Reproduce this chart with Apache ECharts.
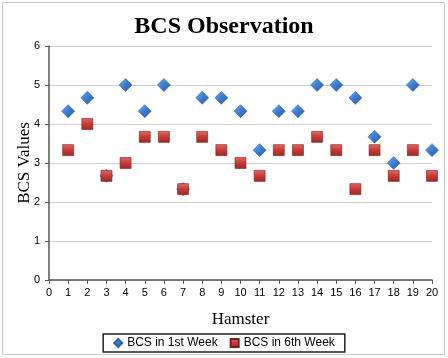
<!DOCTYPE html>
<html><head><meta charset="utf-8">
<script src="https://cdn.jsdelivr.net/npm/echarts@6/dist/echarts.min.js"></script>
<style>html,body{margin:0;padding:0;background:#fff}#c{width:448px;height:358px}</style>
</head><body><div id="c"></div>
<script>
const hamsters = [1,2,3,4,5,6,7,8,9,10,11,12,13,14,15,16,17,18,19,20];
const week1 = [4.33,4.67,2.67,5,4.33,5,2.33,4.67,4.67,4.33,3.33,4.33,4.33,5,5,4.67,3.67,3,5,3.33];
const week6 = [3.33,4,2.67,3,3.67,3.67,2.33,3.67,3.33,3,2.67,3.33,3.33,3.67,3.33,2.33,3.33,2.67,3.33,2.67];
const seriesNames = ['BCS in 1st Week','BCS in 6th Week'];

const chart = echarts.init(document.getElementById('c'));
const blue = new echarts.graphic.LinearGradient(0,0,1,1,[{offset:0,color:'#7fb2f0'},{offset:0.45,color:'#3f7fd4'},{offset:1,color:'#2458a8'}]);
const red = new echarts.graphic.LinearGradient(0,0,0,1,[{offset:0,color:'#e06a66'},{offset:0.5,color:'#c63a36'},{offset:1,color:'#a02824'}]);
chart.setOption({
  animation:false,
  title:{text:'BCS Observation',left:'center',top:10,textStyle:{fontFamily:'Liberation Serif',fontWeight:'bold',fontSize:24,color:'#000'}},
  graphic:[{type:'rect',shape:{x:2.5,y:2.5,width:442,height:352},style:{fill:'none',stroke:'#c8c8c8',lineWidth:1}}],
  grid:{left:49,right:16,top:46,bottom:78,outerBoundsMode:'none',containLabel:false},
  xAxis:{type:'value',min:0,max:20,interval:1,name:'Hamster',nameLocation:'middle',nameGap:31,nameMoveOverlap:false,
    nameTextStyle:{fontFamily:'Liberation Serif',fontSize:17,color:'#000'},
    axisLine:{lineStyle:{color:'#555',width:1.5}},axisTick:{show:true,length:4,lineStyle:{color:'#555'}},
    axisLabel:{color:'#000',fontSize:11,fontFamily:'Liberation Sans',margin:7},splitLine:{show:false}},
  yAxis:{type:'value',min:0,max:6,interval:1,name:'BCS Values',nameLocation:'middle',nameGap:16,nameMoveOverlap:false,
    nameTextStyle:{fontFamily:'Liberation Serif',fontSize:17,color:'#000'},
    axisLine:{show:true,lineStyle:{color:'#555',width:1.5}},axisTick:{show:true,length:4,lineStyle:{color:'#555'}},
    axisLabel:{color:'#000',fontSize:11,fontFamily:'Liberation Sans',margin:9},
    splitLine:{lineStyle:{color:'#d0d0d0',width:1}}},
  legend:{bottom:6,left:'center',itemGap:12,itemWidth:8,itemHeight:8,borderColor:'#222',borderWidth:1.5,padding:[3,10,3,10],
    textStyle:{fontFamily:'Liberation Sans',fontSize:12,color:'#000'},
    data:[{name:seriesNames[0],icon:'diamond'},{name:seriesNames[1],icon:'rect'}]},
  series:[
    {name:seriesNames[0],type:'scatter',symbol:'diamond',symbolSize:13,z:2,
     itemStyle:{color:blue,borderColor:'#2f62a8',borderWidth:0.6,opacity:1},
     data:hamsters.map((h,i)=>[h,week1[i]])},
    {name:seriesNames[1],type:'scatter',symbol:'rect',symbolSize:11,z:3,
     itemStyle:{color:red,borderColor:'#7a201d',borderWidth:0.6,opacity:1},
     data:hamsters.map((h,i)=>[h,week6[i]])}
  ]
});
</script></body></html>
